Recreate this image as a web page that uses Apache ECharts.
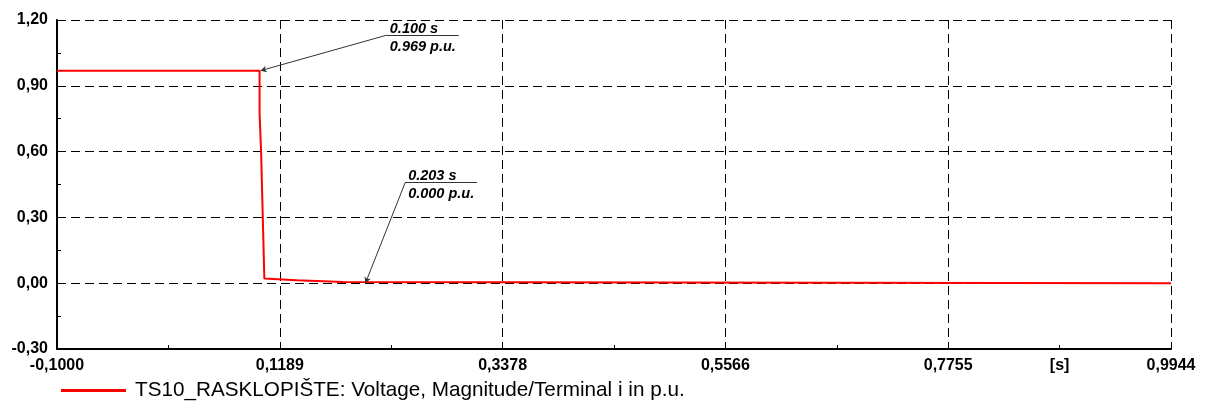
<!DOCTYPE html>
<html>
<head>
<meta charset="utf-8">
<script src="https://cdn.jsdelivr.net/npm/echarts@6/dist/echarts.min.js"></script>
<style>
html,body{margin:0;padding:0;background:#fff;}
#chart{width:1208px;height:403px;}
</style>
</head>
<body>
<div id="chart"></div>
<script>
// ---- data ----
const seriesName = 'TS10_RASKLOPIŠTE: Voltage, Magnitude/Terminal i in p.u.';
const times = [-0.1, 0.099, 0.099, 0.1005, 0.1005, 0.1037, 0.1126, 0.1126, 0.1356, 0.1356, 0.181, 0.181, 0.9944];
const volts = [0.969, 0.969, 0.775, 0.77, 0.6, 0.021, 0.019, 0.016, 0.013, 0.008, 0.006, 0.0, 0.0];
const xTickLabels = ['-0,1000', '0,1189', '0,3378', '0,5566', '0,7755', '0,9944'];
const yTickLabels = ['-0,30', '0,00', '0,30', '0,60', '0,90', '1,20'];
const xUnitLabel = '[s]';
const annoTimes = [0.100, 0.203];
const annoValues = [0.969, 0.000];
const annoTimeText = ['0.100 s', '0.203 s'];
const annoValueText = ['0.969 p.u.', '0.000 p.u.'];

// ---- layout ----
const X_MIN = -0.1, X_MAX = 0.9944;
const X_STEP = (X_MAX - X_MIN) / 5;
const sh = t => t - X_MIN;           // axis runs from 0 so ticks start at min
const callout = [                       // [leader end t, v, underline end t]
  [0.224, 1.131, 0.2944],
  [0.242, 0.458, 0.3124]
];
const FONT = '"Liberation Sans", Arial, sans-serif';

const lineData = times.map((t, i) => [sh(t), volts[i]]);

const mlData = [];
annoTimes.forEach((t, i) => {
  const c = callout[i];
  mlData.push([
    {coord: [sh(c[0]), c[1]], symbol: 'none', label: {show: false}},
    {coord: [sh(t), annoValues[i]], symbol: 'arrow', symbolSize: [5, 6]}
  ]);
  mlData.push([
    {coord: [sh(c[0]), c[1]], symbol: 'none',
     label: {show: true, position: 'insideStartTop', formatter: annoTimeText[i], offset: [0, 4]}},
    {coord: [sh(c[2]), c[1]], symbol: 'none'}
  ]);
  mlData.push([
    {coord: [sh(c[0]), c[1]], symbol: 'none',
     label: {show: true, position: 'insideStartBottom', formatter: annoValueText[i], offset: [0, 1]}},
    {coord: [sh(c[2]), c[1]], symbol: 'none'}
  ]);
});

const chart = echarts.init(document.getElementById('chart'), null, {renderer: 'canvas'});
chart.setOption({
  animation: false,
  backgroundColor: '#fff',
  grid: {left: 57, right: 37, top: 20, bottom: 54, containLabel: false},
  legend: {
    show: true, left: 56, top: 375,
    icon: 'rect', itemWidth: 65, itemHeight: 3,
    data: [seriesName],
    textStyle: {fontFamily: FONT, fontSize: 20.7, color: '#000', padding: [0, 0, 0, 4]}
  },
  xAxis: [{
    type: 'value', min: 0, max: sh(X_MAX), interval: X_STEP,
    axisLine: {show: true, onZero: false, lineStyle: {color: '#000', width: 2}},
    axisTick: {show: true, inside: true, length: 4, lineStyle: {color: '#000'}},
    minorTick: {show: true, splitNumber: 2, length: 4, lineStyle: {color: '#000'}},
    splitLine: {show: true, lineStyle: {color: '#000', width: 1, type: [9, 5]}},
    axisLabel: {
      margin: 9, fontFamily: FONT, fontSize: 16, fontWeight: 'bold', color: '#000',
      formatter: (v, idx) => xTickLabels[idx] !== undefined ? xTickLabels[idx] : ''
    }
  }, {
    type: 'value', min: 0, max: sh(X_MAX), interval: X_STEP / 2, position: 'bottom',
    axisLine: {show: false}, axisTick: {show: false}, splitLine: {show: false},
    axisLabel: {
      margin: 9, fontFamily: FONT, fontSize: 16, fontWeight: 'bold', color: '#000',
      formatter: (v, idx) => idx === 9 ? xUnitLabel : ''
    }
  }],
  yAxis: {
    type: 'value', min: -0.3, max: 1.2, interval: 0.3,
    axisLine: {show: true, lineStyle: {color: '#000', width: 2}},
    axisTick: {show: true, inside: true, length: 4, lineStyle: {color: '#000'}},
    minorTick: {show: true, splitNumber: 2, length: 4, lineStyle: {color: '#000'}},
    splitLine: {show: true, lineStyle: {color: '#000', width: 1, type: [9, 5]}},
    axisLabel: {
      margin: 9, fontFamily: FONT, fontSize: 16, fontWeight: 'bold', color: '#000',
      formatter: (v, idx) => yTickLabels[idx] !== undefined ? yTickLabels[idx] : ''
    }
  },
  series: [{
    name: seriesName, type: 'line', data: lineData,
    showSymbol: false, symbol: 'none',
    lineStyle: {color: '#ff0000', width: 2},
    itemStyle: {color: '#ff0000'},
    markLine: {
      silent: true, animation: false,
      symbol: ['none', 'none'],
      lineStyle: {color: '#333', width: 1, type: 'solid'},
      label: {
        fontFamily: FONT, fontSize: 14.5, fontStyle: 'italic', fontWeight: 'bold',
        color: '#000', distance: 3
      },
      emphasis: {disabled: true},
      data: mlData
    }
  }]
});
</script>
</body>
</html>
